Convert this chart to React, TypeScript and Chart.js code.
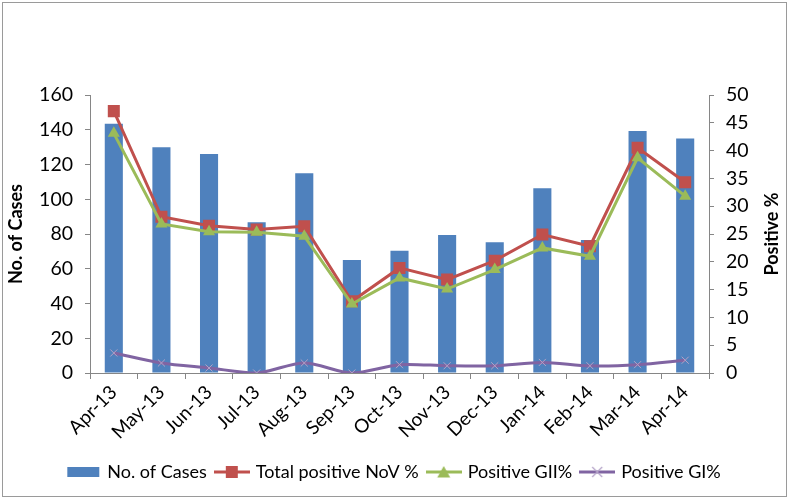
import React, { useEffect, useRef } from "react";
import { Chart, registerables } from "chart.js";
Chart.register(...registerables);

const months = ["Apr-13", "May-13", "Jun-13", "Jul-13", "Aug-13", "Sep-13", "Oct-13", "Nov-13", "Dec-13", "Jan-14", "Feb-14", "Mar-14", "Apr-14"];
const cases = [143.5, 130, 126, 86.7, 115, 65, 70.4, 79.4, 75.2, 106.3, 76.5, 139.3, 135];
const totalNoV = [47.1, 28.1, 26.5, 25.8, 26.4, 12.9, 18.9, 16.8, 20.2, 24.9, 22.8, 40.5, 34.3];
const positiveGII = [43.1, 26.8, 25.4, 25.3, 24.6, 12.4, 17.1, 15.1, 18.6, 22.5, 21.0, 38.7, 31.8];
const positiveGI = [3.6, 1.8, 0.9, 0, 1.8, 0, 1.5, 1.3, 1.3, 1.9, 1.3, 1.5, 2.3];
const seriesNames = ["No. of Cases", "Total positive NoV %", "Positive GII%", "Positive GI%"];
const leftTitle = "No. of Cases";
const rightTitle = "Positive %";

const FONT = "Lato, 'Open Sans', sans-serif";
const BLUE = "#4F81BD";
const RED = "#C0504D";
const GREEN = "#9BBB59";
const PURPLE = "#8064A2";
const LAVENDER = "#B3A2C7";
const AXIS = "#868686";

function legendIcon(kind: string): HTMLCanvasElement {
  const c = document.createElement("canvas");
  c.width = 36;
  c.height = 14;
  const g = c.getContext("2d")!;
  if (kind === "bar") {
    g.fillStyle = BLUE;
    g.fillRect(2, 2, 32, 10);
    return c;
  }
  const color = kind === "red" ? RED : kind === "green" ? GREEN : PURPLE;
  g.strokeStyle = color;
  g.lineWidth = 3;
  g.beginPath();
  g.moveTo(0, 7);
  g.lineTo(36, 7);
  g.stroke();
  if (kind === "red") {
    g.fillStyle = RED;
    g.fillRect(12, 1, 12, 12);
  } else if (kind === "green") {
    g.fillStyle = GREEN;
    g.beginPath();
    g.moveTo(18, 1);
    g.lineTo(24.5, 12.5);
    g.lineTo(11.5, 12.5);
    g.closePath();
    g.fill();
  } else {
    g.strokeStyle = LAVENDER;
    g.lineWidth = 1.2;
    g.beginPath();
    g.moveTo(13, 2);
    g.lineTo(23, 12);
    g.moveTo(23, 2);
    g.lineTo(13, 12);
    g.stroke();
  }
  return c;
}

const rightTitlePlugin = {
  id: "rightTitle",
  afterDraw(chart: any) {
    const { ctx, chartArea } = chart;
    ctx.save();
    ctx.translate(772, (chartArea.top + chartArea.bottom) / 2);
    ctx.rotate(-Math.PI / 2);
    ctx.font = `bold 18px ${FONT}`;
    ctx.fillStyle = "#000";
    ctx.textAlign = "center";
    ctx.textBaseline = "middle";
    ctx.fillText(rightTitle, 0, 0);
    ctx.restore();
  },
};

export default function App() {
  const ref = useRef<HTMLCanvasElement>(null);
  useEffect(() => {
    const icons = [legendIcon("bar"), legendIcon("red"), legendIcon("green"), legendIcon("purple")];
    const chart = new Chart(ref.current!, {
      type: "bar",
      data: {
        labels: months,
        datasets: [
          {
            type: "bar",
            label: seriesNames[0],
            data: cases,
            backgroundColor: BLUE,
            yAxisID: "y",
            barPercentage: 0.38,
            categoryPercentage: 1,
            order: 4,
          },
          {
            type: "line",
            label: seriesNames[1],
            data: totalNoV,
            borderColor: RED,
            backgroundColor: RED,
            borderWidth: 3,
            pointStyle: "rect",
            pointRadius: 8.5,
            pointBorderWidth: 0,
            yAxisID: "y1",
            order: 2,
          },
          {
            type: "line",
            label: seriesNames[2],
            data: positiveGII,
            borderColor: GREEN,
            backgroundColor: GREEN,
            borderWidth: 3,
            pointStyle: "triangle",
            pointRadius: 7,
            pointBorderWidth: 0,
            yAxisID: "y1",
            order: 1,
          },
          {
            type: "line",
            label: seriesNames[3],
            data: positiveGI,
            borderColor: PURPLE,
            backgroundColor: LAVENDER,
            pointBorderColor: LAVENDER,
            borderWidth: 3,
            tension: 0.3,
            pointStyle: "crossRot",
            pointRadius: 5,
            pointBorderWidth: 1,
            yAxisID: "y1",
            order: 0,
          },
        ],
      },
      options: {
        animation: false,
        responsive: false,
        layout: { padding: { left: 5, right: 4, top: 95, bottom: 9 } },
        plugins: {
          tooltip: { enabled: false },
          legend: {
            position: "bottom",
            labels: {
              usePointStyle: true,
              pointStyleWidth: 30,
              padding: 10,
              color: "#000",
              font: { family: FONT, size: 18 },
              generateLabels: (ch: any) =>
                ch.data.datasets.map((d: any, i: number) => ({
                  text: d.label,
                  pointStyle: icons[i],
                  fillStyle: "transparent",
                  strokeStyle: "transparent",
                  lineWidth: 0,
                  hidden: false,
                  datasetIndex: i,
                  fontColor: "#000",
                })),
            },
          },
        },
        scales: {
          x: {
            offset: true,
            grid: { display: true, offset: true, drawOnChartArea: false, tickLength: 6, color: AXIS },
            border: { display: true, color: AXIS },
            ticks: {
              maxRotation: 45,
              minRotation: 45,
              padding: 2,
              color: "#000",
              font: { family: FONT, size: 19 },
            },
            afterFit: (s: any) => {
              s.height = 80;
            },
          },
          y: {
            position: "left",
            min: 0,
            max: 160,
            ticks: { stepSize: 20, padding: 12, color: "#000", font: { family: FONT, size: 19.5 } },
            grid: { display: true, drawOnChartArea: false, tickLength: 5, color: AXIS },
            border: { display: true, color: AXIS },
            title: {
              display: true,
              text: leftTitle,
              color: "#000",
              font: { family: FONT, size: 18, weight: "bold" },
              padding: { top: 0, bottom: 0 },
            },
            afterFit: (s: any) => {
              s.width = 85;
            },
          },
          y1: {
            position: "right",
            min: 0,
            max: 50,
            ticks: { stepSize: 5, padding: 12, color: "#000", font: { family: FONT, size: 19.5 } },
            grid: { display: true, drawOnChartArea: false, tickLength: 5, color: AXIS },
            border: { display: true, color: AXIS },
            afterFit: (s: any) => {
              s.width = 75;
            },
          },
        },
      },
      plugins: [rightTitlePlugin],
    } as any);
    return () => chart.destroy();
  }, []);

  return (
    <div style={{ position: "fixed", left: 0, top: 0, width: 788, height: 500, background: "#fff" }}>
      <canvas ref={ref} width={788} height={500} style={{ position: "absolute", left: 0, top: 0, width: 788, height: 500 }} />
      <div
        style={{
          position: "absolute",
          left: 2,
          top: 2,
          width: 783,
          height: 493,
          border: "1px solid #9a9a9a",
          pointerEvents: "none",
        }}
      />
    </div>
  );
}
